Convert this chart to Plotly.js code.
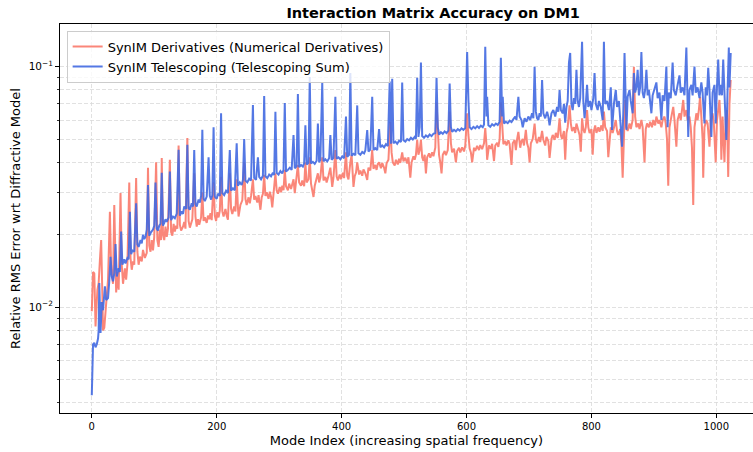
<!DOCTYPE html>
<html>
<head>
<meta charset="utf-8">
<script src="https://cdn.plot.ly/plotly-3.0.1.min.js"></script>
<style>html,body{margin:0;padding:0;background:#fff;}#chart{width:753px;height:452px;}</style>
</head>
<body>
<div id="chart"></div>
<script>
// Series 1: SynIM Derivatives (Numerical Derivatives)
const redMode = [
0,2,4,6,9,11,13,15,17,18,
20,23,26,29,31,34,36,39,41,43,
46,48,50,53,55,57,60,62,64,66,
68,71,73,75,77,80,82,85,88,90,
92,94,96,98,100,103,105,107,109,111,
112,114,116,118,120,122,125,127,129,131,
133,135,137,139,141,143,146,148,150,153,
155,157,159,161,164,166,168,170,172,175,
177,179,181,184,186,188,190,192,195,197,
199,201,203,205,207,209,211,214,216,218,
221,223,225,228,230,232,234,235,238,241,
244,246,248,251,253,255,258,260,262,265,
267,270,272,274,276,278,280,283,285,287,
289,291,294,296,298,301,303,305,307,309,
311,314,316,319,321,323,325,327,330,332,
335,337,340,342,344,347,349,351,353,355,
357,360,362,364,366,369,371,374,376,379,
382,385,387,390,392,394,397,399,402,404,
407,409,411,414,416,419,421,423,425,428,
430,433,435,438,441,443,446,449,451,454,
456,458,460,463,465,468,470,472,475,478,
480,482,485,487,490,492,494,497,499,502,
505,507,510,512,515,517,519,521,523,525,
527,529,531,533,535,537,540,542,545,547,
550,552,554,556,558,560,562,565,567,570,
573,575,577,580,583,585,588,590,593,596,
598,601,603,605,607,609,612,614,617,620,
622,625,628,630,632,633,636,639,641,644,
646,649,651,653,655,657,659,662,664,667,
669,672,674,677,679,681,683,686,688,690,
692,695,697,699,701,703,706,709,711,713,
716,718,721,723,726,728,731,733,736,738,
741,743,746,749,751,753,756,758,760,762,
765,767,769,772,774,776,779,781,783,785,
787,789,791,793,795,797,800,802,804,806,
808,811,813,816,818,820,822,825,827,829,
831,834,836,839,841,843,846,848,850,852,
854,856,858,861,863,866,868,870,872,875,
877,880,882,885,887,889,892,894,897,899,
902,904,907,909,912,914,917,919,921,923,
925,928,931,933,936,938,941,943,945,947,
949,952,954,957,959,961,963,965,968,970,
972,974,976,978,979,981,984,986,989,991,
994,996,999,1001,1003,1005,1007,1008,1010,1013,
1015,1017,1019,1021,1023
];
const redRMS = [
0.0096,0.0140,0.0138,0.0083,0.0118,0.0126,0.0157,0.0190,0.0110,0.0080,
0.0082,0.0100,0.0130,0.0249,0.0143,0.0125,0.0266,0.0115,0.0140,0.0118,
0.0298,0.0150,0.0125,0.0145,0.0130,0.0150,0.0330,0.0160,0.0143,0.0155,
0.0150,0.0344,0.0170,0.0150,0.0162,0.0155,0.0173,0.0160,0.0168,0.0380,
0.0180,0.0170,0.0190,0.0172,0.0196,0.0400,0.0190,0.0178,0.0210,0.0190,
0.0417,0.0200,0.0190,0.0216,0.0196,0.0212,0.0410,0.0205,0.0198,0.0222,
0.0206,0.0218,0.0212,0.0470,0.0220,0.0208,0.0216,0.0226,0.0212,0.0505,
0.0228,0.0214,0.0224,0.0232,0.0360,0.0238,0.0216,0.0232,0.0220,0.0236,
0.0300,0.0228,0.0236,0.0224,0.0240,0.0232,0.0246,0.0230,0.0330,0.0240,
0.0228,0.0248,0.0236,0.0252,0.0348,0.0250,0.0238,0.0256,0.0240,0.0231,
0.0360,0.0256,0.0244,0.0262,0.0250,0.0340,0.0260,0.0238,0.0266,0.0278,
0.0400,0.0282,0.0266,0.0286,0.0270,0.0290,0.0340,0.0280,0.0290,0.0272,
0.0292,0.0254,0.0286,0.0296,0.0355,0.0290,0.0300,0.0282,0.0302,0.0288,
0.0260,0.0300,0.0360,0.0306,0.0296,0.0316,0.0300,0.0320,0.0306,0.0372,
0.0318,0.0306,0.0326,0.0310,0.0330,0.0340,0.0298,0.0330,0.0390,0.0330,
0.0320,0.0336,0.0318,0.0400,0.0330,0.0340,0.0420,0.0326,0.0300,0.0287,
0.0320,0.0340,0.0360,0.0330,0.0346,0.0420,0.0336,0.0348,0.0330,0.0352,
0.0380,0.0316,0.0346,0.0450,0.0350,0.0336,0.0356,0.0340,0.0362,0.0344,
0.0440,0.0352,0.0340,0.0400,0.0430,0.0316,0.0350,0.0362,0.0400,0.0356,
0.0370,0.0352,0.0374,0.0360,0.0338,0.0380,0.0370,0.0450,0.0376,0.0390,
0.0372,0.0394,0.0400,0.0378,0.0398,0.0380,0.0360,0.0396,0.0410,0.0590,
0.0440,0.0400,0.0388,0.0410,0.0392,0.0414,0.0398,0.0440,0.0404,0.0418,
0.0396,0.0420,0.0345,0.0400,0.0424,0.0410,0.0430,0.0496,0.0430,0.0450,
0.0496,0.0420,0.0405,0.0430,0.0360,0.0420,0.0436,0.0418,0.0440,0.0424,
0.0460,0.0710,0.0500,0.0430,0.0400,0.0360,0.0430,0.0446,0.0428,0.0450,
0.0650,0.0480,0.0440,0.0456,0.0400,0.0446,0.0460,0.0440,0.0462,0.0444,
0.0470,0.0640,0.0520,0.0456,0.0440,0.0400,0.0460,0.0446,0.0468,0.0450,
0.0472,0.0454,0.0480,0.0556,0.0470,0.0410,0.0470,0.0456,0.0478,0.0405,
0.0470,0.0482,0.0464,0.0500,0.0710,0.0540,0.0476,0.0490,0.0470,0.0494,
0.0476,0.0390,0.0480,0.0496,0.0450,0.0500,0.0535,0.0460,0.0490,0.0500,
0.0470,0.0546,0.0480,0.0460,0.0400,0.0480,0.0500,0.0580,0.0500,0.0480,
0.0510,0.0486,0.0540,0.0496,0.0470,0.0510,0.0490,0.0417,0.0500,0.0520,
0.0496,0.0530,0.0506,0.0610,0.0520,0.0500,0.0540,0.0410,0.0530,0.0560,
0.0690,0.0580,0.0540,0.0560,0.0530,0.0580,0.0546,0.0520,0.0443,0.0610,
0.0550,0.0530,0.0560,0.0660,0.0560,0.0530,0.0550,0.0430,0.0540,0.0570,
0.0530,0.0560,0.0536,0.0570,0.0540,0.0650,0.0560,0.0540,0.0420,0.0500,
0.0560,0.0530,0.0556,0.0600,0.0540,0.0520,0.0550,0.0480,0.0345,0.0500,
0.0727,0.0560,0.0540,0.0580,0.0550,0.0600,0.1000,0.0620,0.0560,0.0580,
0.0550,0.0600,0.0560,0.0400,0.0550,0.0580,0.0560,0.0590,0.0560,0.0600,
0.0570,0.0620,0.0580,0.0600,0.0560,0.0600,0.0620,0.0580,0.0500,0.0320,
0.0560,0.0620,0.0680,0.0600,0.0465,0.0600,0.0640,0.0600,0.0660,0.0727,
0.0620,0.0660,0.0600,0.0620,0.0560,0.0460,0.0266,0.0560,0.0640,0.0600,
0.0660,0.0750,0.0620,0.0500,0.0345,0.0560,0.0600,0.0580,0.0465,0.0600,
0.0640,0.0580,0.0400,0.0600,0.0660,0.0727,0.0560,0.0410,0.0620,0.0400,
0.0600,0.0660,0.0348,0.0700,0.0880
];

// Series 2: SynIM Telescoping (Telescoping Sum)
const blueMode = [
0,2,4,6,8,10,11,12,14,16,
18,21,23,26,28,30,32,34,36,38,
40,43,45,47,49,52,54,57,59,61,
63,65,68,71,73,75,78,80,82,84,
86,88,90,92,95,98,100,102,104,106,
108,110,112,114,116,118,120,123,125,127,
130,133,136,139,141,144,146,148,151,153,
155,157,160,162,164,166,168,171,173,175,
177,179,181,184,187,189,191,193,195,197,
200,202,205,207,209,212,215,218,221,223,
226,229,232,234,237,240,242,244,246,249,
252,255,258,260,263,266,268,271,274,276,
278,281,284,287,290,292,294,296,299,302,
305,307,309,311,314,317,320,323,325,328,
330,332,335,338,340,342,344,347,349,351,
354,357,360,362,364,366,369,371,374,377,
380,382,384,387,390,392,395,398,401,404,
407,409,412,414,416,419,422,425,427,430,
433,436,438,441,443,446,449,451,454,457,
460,462,465,468,471,474,477,479,481,483,
486,489,492,495,497,499,502,505,508,511,
514,517,519,521,523,525,527,529,532,535,
538,541,544,547,550,552,554,556,559,562,
565,568,571,573,575,577,580,583,586,589,
592,595,598,601,603,605,608,611,614,617,
620,623,626,628,630,632,633,635,638,641,
644,647,650,653,655,657,658,660,663,666,
669,672,675,678,680,683,685,688,690,693,
696,699,702,705,707,709,711,713,715,717,
719,721,723,726,729,731,733,736,739,742,
745,747,749,751,754,756,758,760,762,764,
766,768,770,772,774,776,778,780,782,785,
787,789,791,793,795,798,800,803,805,807,
810,812,815,818,820,822,825,828,831,833,
836,839,841,844,847,849,851,853,855,856,
858,861,863,866,868,870,872,874,876,878,
880,882,884,886,888,890,892,894,896,898,
901,904,906,909,912,914,917,920,922,924,
927,930,932,935,938,941,943,946,949,952,
954,955,957,960,962,965,967,970,973,976,
978,981,983,985,987,989,992,994,997,999,
1001,1003,1005,1007,1009,1011,1013,1016,1018,1020,
1021,1023
];
const blueRMS = [
0.0043,0.0070,0.0071,0.0068,0.0070,0.0074,0.0080,0.0126,0.0078,0.0105,
0.0097,0.0122,0.0107,0.0109,0.0128,0.0162,0.0134,0.0128,0.0138,0.0183,
0.0134,0.0145,0.0140,0.0206,0.0150,0.0158,0.0152,0.0160,0.0158,0.0249,
0.0166,0.0172,0.0170,0.0270,0.0182,0.0178,0.0190,0.0184,0.0200,0.0192,
0.0196,0.0210,0.0322,0.0198,0.0205,0.0210,0.0218,0.0330,0.0212,0.0208,
0.0218,0.0222,0.0362,0.0218,0.0224,0.0232,0.0226,0.0236,0.0366,0.0230,
0.0238,0.0234,0.0245,0.0451,0.0240,0.0250,0.0244,0.0262,0.0256,0.0473,
0.0258,0.0254,0.0270,0.0262,0.0450,0.0268,0.0262,0.0280,0.0272,0.0290,
0.0546,0.0282,0.0276,0.0288,0.0420,0.0290,0.0280,0.0292,0.0560,0.0288,
0.0282,0.0296,0.0290,0.0640,0.0298,0.0292,0.0305,0.0298,0.0450,0.0305,
0.0312,0.0306,0.0480,0.0320,0.0330,0.0322,0.0338,0.0500,0.0336,0.0330,
0.0342,0.0336,0.0693,0.0345,0.0338,0.0420,0.0348,0.0340,0.0352,0.0755,
0.0350,0.0344,0.0356,0.0350,0.0362,0.0354,0.0650,0.0362,0.0356,0.0368,
0.0360,0.0372,0.0706,0.0366,0.0372,0.0380,0.0372,0.0520,0.0378,0.0385,
0.0770,0.0382,0.0390,0.0384,0.0396,0.0570,0.0392,0.0398,0.0905,0.0396,
0.0402,0.0394,0.0406,0.0580,0.0400,0.0410,0.0860,0.0404,0.0412,0.0404,
0.0416,0.0520,0.0410,0.0418,0.0750,0.0414,0.0420,0.0412,0.0424,0.0416,
0.0620,0.0422,0.0430,0.0940,0.0426,0.0434,0.0428,0.0690,0.0436,0.0430,
0.0442,0.0436,0.0448,0.0545,0.0444,0.0452,0.0750,0.0450,0.0458,0.0450,
0.0550,0.0462,0.0470,0.0462,0.0476,0.0468,0.0867,0.0478,0.0890,0.0480,
0.0488,0.0478,0.0492,0.0486,0.0860,0.0494,0.0488,0.0500,0.0494,0.0506,
0.0498,0.0510,0.0502,0.0900,0.0510,0.0560,0.1040,0.0515,0.0506,0.0518,
0.0510,0.0522,0.0514,0.0526,0.0530,0.0900,0.0560,0.0522,0.0534,0.0526,
0.0538,0.0530,0.0542,0.0850,0.0560,0.0536,0.0546,0.0538,0.0550,0.0542,
0.0554,0.0546,0.0556,0.1150,0.0730,0.0560,0.0550,0.0562,0.0554,0.0566,
0.0556,0.0568,0.0560,0.0575,0.1210,0.0620,0.0750,0.0570,0.0562,0.0576,
0.0568,0.0580,0.0572,0.0590,0.1090,0.0620,0.0750,0.0580,0.0590,0.0582,
0.0596,0.0588,0.0605,0.0620,0.0600,0.0750,0.0620,0.0600,0.0560,0.0610,
0.0590,0.0620,0.0600,0.0640,0.0610,0.1000,0.0650,0.0610,0.0600,0.0640,
0.0620,0.0880,0.0640,0.0610,0.0650,0.0620,0.0570,0.0640,0.0660,0.0620,
0.0680,0.0650,0.0800,0.0660,0.0640,0.0700,0.0585,0.0680,0.0720,0.1040,
0.1140,0.0700,0.0660,0.0740,0.0700,0.0970,0.0720,0.0680,0.0740,0.1270,
0.0720,0.0610,0.0700,0.0840,0.0680,0.0720,0.0660,0.0740,0.0940,0.0700,
0.0660,0.0720,0.0680,0.0600,0.1270,0.0700,0.0720,0.0660,0.0820,0.0546,
0.0700,0.0800,0.0680,0.0720,0.0560,0.0465,0.0640,0.1140,0.0700,0.0546,
0.0750,0.0800,0.0720,0.0640,0.0940,0.0780,0.0820,0.0970,0.0760,0.0820,
0.1150,0.0780,0.0740,0.0800,0.0970,0.0760,0.0800,0.0720,0.0640,0.0760,
0.0800,0.0860,0.0740,0.0780,0.0600,0.0760,0.0720,0.1000,0.0560,0.0780,
0.0740,0.1040,0.0800,0.0760,0.0840,0.0920,0.0780,0.0820,0.0760,0.1200,
0.0700,0.0510,0.0800,0.0840,0.0760,0.1000,0.0780,0.0820,0.0740,0.0860,
0.0780,0.0580,0.0820,0.0760,0.0990,0.0800,0.0510,0.0780,0.0840,0.0580,
0.0820,0.1070,0.0760,0.0840,0.0760,0.1070,0.0780,0.0496,0.0800,0.1200,
0.0820,0.1140
];

const seriesNames = ['SynIM Derivatives (Numerical Derivatives)', 'SynIM Telescoping (Telescoping Sum)'];
const xTickVals = [0, 200, 400, 600, 800, 1000];
const yTickVals = [0.01, 0.1];
const yTickText = ['10<sup>\u22122</sup>', '10<sup>\u22121</sup>'];
const yMinorVals = [0.004,0.005,0.006,0.007,0.008,0.009,0.02,0.03,0.04,0.05,0.06,0.07,0.08,0.09];

const gridCol = '#d9d9d9';
const gridDash = '4px,2px';

const traces = [
  {x: redMode, y: redRMS, type: 'scatter', mode: 'lines', name: seriesNames[0],
   line: {color: '#FA8072', width: 2}, opacity: 0.95},
  {x: blueMode, y: blueRMS, type: 'scatter', mode: 'lines', name: seriesNames[1],
   line: {color: '#4169E1', width: 2}, opacity: 0.9}
];

const layout = {
  width: 753, height: 452,
  margin: {l: 60, r: 0, t: 24, b: 39, pad: 0},
  paper_bgcolor: '#ffffff', plot_bgcolor: '#ffffff',
  font: {family: 'DejaVu Sans, sans-serif', color: '#000000'},
  showlegend: true,
  title: {text: '<b>Interaction Matrix Accuracy on DM1</b>', font: {size: 14.5, family: 'DejaVu Sans, sans-serif', color: '#000'},
          x: 405.5/753, xref: 'paper', xanchor: 'center', y: 1 - 12.5/452, yref: 'container', yanchor: 'middle'},
  xaxis: {
    range: [-50.9, 1058.7], tickvals: xTickVals, ticks: 'outside', ticklen: 4, tickwidth: 1, tickcolor: '#000',
    showline: true, linecolor: '#000', linewidth: 1, mirror: true,
    showgrid: true, gridcolor: gridCol, griddash: gridDash, gridwidth: 0.8, zeroline: false,
    tickfont: {size: 10, family: 'DejaVu Sans, sans-serif'},
    title: {text: 'Mode Index (increasing spatial frequency)', font: {size: 13, family: 'DejaVu Sans, sans-serif'}, standoff: 4}
  },
  yaxis: {
    type: 'log', range: [-2.4406, -0.8225], tickvals: yTickVals, ticktext: yTickText,
    ticks: 'outside', ticklen: 4, tickwidth: 1, tickcolor: '#000',
    showline: true, linecolor: '#000', linewidth: 1, mirror: false,
    showgrid: true, gridcolor: gridCol, griddash: gridDash, gridwidth: 0.8, zeroline: false,
    tickfont: {size: 10.5, family: 'DejaVu Sans, sans-serif'},
    minor: {tickvals: yMinorVals, ticks: 'outside', ticklen: 2, tickwidth: 0.8, tickcolor: '#000',
            showgrid: true, gridcolor: gridCol, griddash: gridDash, gridwidth: 0.8},
    title: {text: 'Relative RMS Error wrt Diffractive Model', font: {size: 13, family: 'DejaVu Sans, sans-serif'}, standoff: 5}
  },
  legend: {
    x: 0.0096, y: 0.983, xanchor: 'left', yanchor: 'top',
    bgcolor: 'rgba(255,255,255,0.8)', bordercolor: '#cccccc', borderwidth: 1,
    font: {size: 13, family: 'DejaVu Sans, sans-serif'}, itemwidth: 30, tracegroupgap: 0
  }
};

Plotly.newPlot('chart', traces, layout, {staticPlot: true, displayModeBar: false});
</script>
</body>
</html>
